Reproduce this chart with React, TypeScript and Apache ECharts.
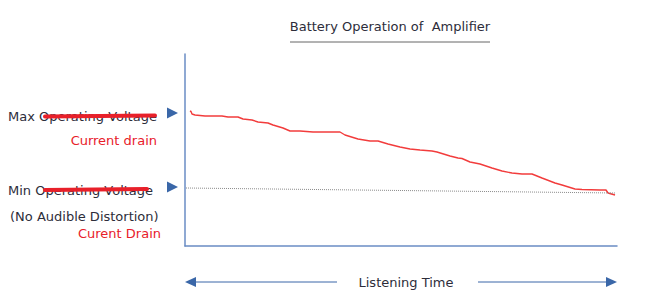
import React, { useEffect, useRef } from "react";
import * as echarts from "echarts";

const chartTitle = "Battery Operation of  Amplifier";
const xAxisName = "Listening Time";
const maxLabel = "Max Operating Voltage";
const maxSub = "Current drain";
const minLabel = "Min Operating Voltage";
const minSub1 = "(No Audible Distortion)";
const minSub2 = "Curent Drain";

const maxVoltage = 133;
const minVoltage = 59;

const currentDrain: [number, number][] = [
  [5, 135], [6, 134.5], [7, 132], [10, 131], [20, 130], [37, 130], [43, 129], [53, 129],
  [58, 127], [67, 126], [73, 124], [83, 123], [88, 121], [98, 118], [105, 115],
  [115, 115], [128, 114], [145, 114], [155, 114], [160, 111], [173, 107], [185, 105],
  [193, 105], [203, 102], [215, 99], [225, 97], [235, 96], [247, 95], [252, 94],
  [265, 90], [273, 88], [277, 87.5], [285, 84], [295, 82], [307, 78], [317, 75],
  [327, 73], [337, 72], [347, 72], [357, 68], [370, 63], [377, 61], [390, 57],
  [397, 56.5], [415, 56], [421, 56], [423, 53], [430, 51],
];
const minLine: [number, number][] = [[1, 58], [430, 53]];

const FONT = "DejaVu Sans";
const TEXT = "#2d2d3a";
const RED = "#e8202a";
const BLUE = "#3a67a8";

export default function App() {
  const ref = useRef<HTMLDivElement>(null);
  useEffect(() => {
    if (!ref.current) return;
    const chart = echarts.init(ref.current, undefined, { renderer: "svg" });
    chart.setOption({
      animation: false,
      grid: { left: 185, right: 40, top: 54, bottom: 59 },
      xAxis: {
        type: "value", min: 0, max: 432,
        axisLine: { show: true, onZero: false, lineStyle: { color: "#6a8cc4", width: 1.5 } },
        axisTick: { show: false }, axisLabel: { show: false }, splitLine: { show: false },
      },
      yAxis: {
        type: "value", min: 0, max: 192,
        axisLine: { show: true, lineStyle: { color: "#6a8cc4", width: 1.5 } },
        axisTick: { show: false }, axisLabel: { show: false }, splitLine: { show: false },
      },
      series: [
        {
          type: "line", data: currentDrain, symbol: "none",
          lineStyle: { color: "#f23c3c", width: 1.4 },
        },
        {
          type: "line", data: minLine, symbol: "none",
          lineStyle: { color: "#8a8a8a", width: 1, type: "dotted" },
        },
      ],
    });
    const pMax = chart.convertToPixel({ gridIndex: 0 }, [0, maxVoltage]) as number[];
    const pMin = chart.convertToPixel({ gridIndex: 0 }, [0, minVoltage]) as number[];
    const pEnd = chart.convertToPixel({ gridIndex: 0 }, [432, 0]) as number[];
    const x0 = pMax[0];
    const tri = (y: number) => ({
      type: "polygon",
      shape: { points: [[x0 - 18, y - 5.5], [x0 - 7, y], [x0 - 18, y + 5.5]] },
      style: { fill: BLUE },
    });
    const txt = (text: string, x: number, y: number, align: string, color: string) => ({
      type: "text", x, y,
      style: { text, fill: color, font: `13px '${FONT}'`, textAlign: align, textVerticalAlign: "middle" },
    });
    const ay = pEnd[1] + 36;
    chart.setOption({
      graphic: [
        txt(chartTitle, 390, 26, "center", TEXT),
        { type: "line", shape: { x1: 290, y1: 42, x2: 490, y2: 42 }, style: { stroke: "#666", lineWidth: 1 } },
        tri(pMax[1]),
        tri(pMin[1]),
        txt(maxLabel, 8, pMax[1] + 3, "left", TEXT),
        { type: "line", shape: { x1: 45, y1: pMax[1] + 3.5, x2: 155, y2: pMax[1] + 2.5 }, style: { stroke: RED, lineWidth: 4, lineCap: "round" } },
        txt(maxSub, 157, pMax[1] + 27, "right", RED),
        txt(minLabel, 8, pMin[1] + 3, "left", TEXT),
        { type: "line", shape: { x1: 45, y1: pMin[1] + 3, x2: 147, y2: pMin[1] + 2 }, style: { stroke: RED, lineWidth: 4, lineCap: "round" } },
        txt(minSub1, 10, pMin[1] + 29, "left", TEXT),
        txt(minSub2, 161, pMin[1] + 46, "right", RED),
        txt(xAxisName, 406, ay, "center", TEXT),
        { type: "line", shape: { x1: x0 + 8, y1: ay, x2: 337, y2: ay }, style: { stroke: BLUE, lineWidth: 1 } },
        { type: "polygon", shape: { points: [[x0, ay], [x0 + 11, ay - 5], [x0 + 11, ay + 5]] }, style: { fill: BLUE } },
        { type: "line", shape: { x1: 478, y1: ay, x2: pEnd[0] - 8, y2: ay }, style: { stroke: BLUE, lineWidth: 1 } },
        { type: "polygon", shape: { points: [[pEnd[0], ay], [pEnd[0] - 11, ay - 5], [pEnd[0] - 11, ay + 5]] }, style: { fill: BLUE } },
      ],
    });
    return () => chart.dispose();
  }, []);
  return <div ref={ref} style={{ width: 657, height: 305, position: "absolute", left: 0, top: 0 }} />;
}
